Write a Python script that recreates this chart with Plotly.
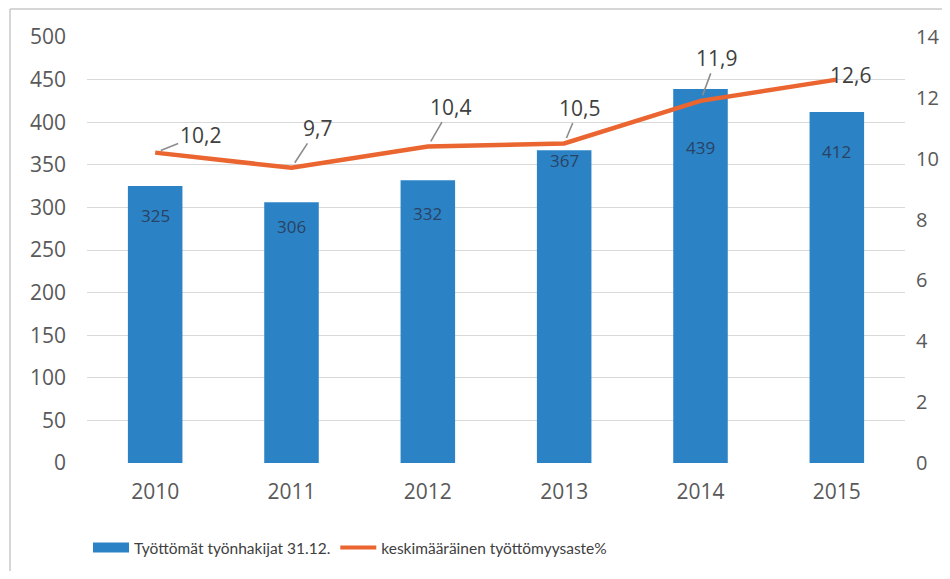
import plotly.graph_objects as go

years = ["2010", "2011", "2012", "2013", "2014", "2015"]
unemployed = [325, 306, 332, 367, 439, 412]
rate = [10.2, 9.7, 10.4, 10.5, 11.9, 12.6]
rate_labels = ["10,2", "9,7", "10,4", "10,5", "11,9", "12,6"]
left_ticks = list(range(0, 501, 50))
right_ticks = list(range(0, 15, 2))

bar_name = "Työttömät työnhakijat 31.12."
line_name = "keskimääräinen työttömyysaste%"

BLUE = "#2b83c6"
ORANGE = "#ea652f"

# style: pixel offsets for the data labels
line_label_offsets = [(45, -18), (26, -40), (23, -40), (15, -36), (16, -43), (14, -5)]
line_label_leader = [True, True, True, True, True, False]
bar_label_shift = [-29, -24, -33, -10, -59, -40]

# page has an 8px body margin on every side; fit the figure inside the window
OFF = 8
W, H = 950 - 2 * OFF, 579 - 2 * OFF
PL, PR, PT, PB = 87, 905, 37, 463   # plot area in page pixels


def px_x(p):
    return (p - PL) / (PR - PL)


def px_y(p):
    return (PB - p) / (PB - PT)


fig = go.Figure()
fig.add_trace(go.Bar(
    x=years, y=unemployed, name=bar_name, showlegend=False,
    marker=dict(color=BLUE, line=dict(width=0)),
    yaxis="y",
))
fig.add_trace(go.Scatter(
    x=years, y=rate, name=line_name, mode="lines", showlegend=False,
    line=dict(color=ORANGE, width=4.5),
    yaxis="y2",
))
# legend proxies (wide blue rectangle, orange line)
fig.add_trace(go.Scatter(x=[None], y=[None], mode="lines", name=bar_name,
                         line=dict(color=BLUE, width=13), yaxis="y"))
fig.add_trace(go.Scatter(x=[None], y=[None], mode="lines", name=line_name,
                         line=dict(color=ORANGE, width=4), yaxis="y2"))

annotations = []
for i, (v, shift) in enumerate(zip(unemployed, bar_label_shift)):
    annotations.append(dict(
        x=i, y=v, xref="x", yref="y", text=str(v), showarrow=False,
        yshift=shift, font=dict(size=17, color="#2a4263", family="Open Sans"),
    ))
for i, (v, lab, (ax, ay), arr) in enumerate(zip(rate, rate_labels, line_label_offsets,
                                                 line_label_leader)):
    annotations.append(dict(
        x=i, y=v, xref="x", yref="y2", text=lab,
        showarrow=True, arrowhead=0, arrowwidth=1.6, standoff=6,
        arrowcolor="#8c8c8c" if arr else "rgba(0,0,0,0)",
        ax=ax, ay=ay,
        font=dict(size=21, color="#404040", family="Open Sans"),
    ))

border = dict(color="#c8c8c8", width=1.5)

fig.update_layout(
    width=W, height=H,
    margin=dict(l=PL - OFF, r=(OFF + W) - PR, t=PT - OFF, b=(OFF + H) - PB,
                autoexpand=False),
    paper_bgcolor="white", plot_bgcolor="white",
    font=dict(family="Open Sans", color="#595959", size=21),
    bargap=0.6,
    showlegend=True,
    legend=dict(orientation="h", x=px_x(88), xanchor="left",
                y=px_y(548), yanchor="middle",
                font=dict(size=15.5, color="#404040", family="Lato"), traceorder="normal",
                itemwidth=36, bgcolor="rgba(0,0,0,0)"),
    xaxis=dict(type="category", showgrid=False, showline=False, ticks="",
               tickfont=dict(size=21), automargin=False, ticklabelstandoff=14),
    yaxis=dict(range=[0, 500], tickvals=left_ticks, showgrid=True, gridcolor="#d9d9d9",
               gridwidth=1.2, zeroline=False, ticks="", ticklabelstandoff=20,
               tickfont=dict(size=21), automargin=False),
    yaxis2=dict(range=[0, 14], tickvals=right_ticks, overlaying="y", side="right",
                showgrid=False, zeroline=False, ticks="", ticklabelstandoff=10,
                tickfont=dict(size=20), automargin=False),
    annotations=annotations,
    shapes=[
        dict(type="line", xref="paper", yref="paper",
             x0=px_x(10), x1=px_x(960), y0=px_y(9), y1=px_y(9), line=border, layer="below"),
        dict(type="line", xref="paper", yref="paper",
             x0=px_x(10), x1=px_x(10), y0=px_y(9), y1=px_y(600), line=border, layer="below"),
    ],
)

fig.write_html("out.html")
